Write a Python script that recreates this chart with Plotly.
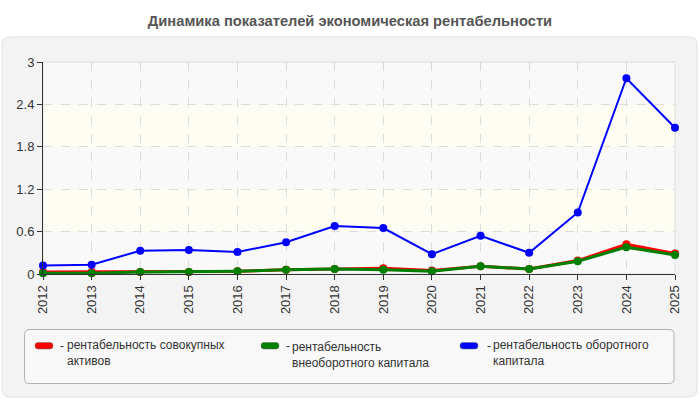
import plotly.graph_objects as go

years = [2012, 2013, 2014, 2015, 2016, 2017, 2018, 2019, 2020, 2021, 2022, 2023, 2024, 2025]
year_labels = [str(y) for y in years]
total_assets = [0.03, 0.03, 0.03, 0.03, 0.04, 0.06, 0.07, 0.08, 0.05, 0.11, 0.07, 0.19, 0.42, 0.29]
noncurrent = [0.01, 0.01, 0.03, 0.03, 0.04, 0.06, 0.07, 0.06, 0.04, 0.11, 0.07, 0.18, 0.38, 0.27]
working = [0.12, 0.13, 0.33, 0.34, 0.31, 0.45, 0.68, 0.65, 0.28, 0.54, 0.30, 0.87, 2.77, 2.07]
names = ["рентабельность совокупных активов",
         "рентабельность внеоборотного капитала",
         "рентабельность оборотного капитала"]
legend_texts = ["рентабельность совокупных<br>активов",
                "рентабельность<br>внеоборотного капитала",
                "рентабельность оборотного<br>капитала"]
colors = ["#ff0000", "#008000", "#0000ff"]
y_ticks = [0, 0.6, 1.2, 1.8, 2.4, 3]
y_tick_text = ["0", "0.6", "1.2", "1.8", "2.4", "3"]

W, H = 700, 400
L, R, T, B = 43, 675, 62, 274


def fx(px):
    return (px - L) / (R - L)


def fy(py):
    return (B - py) / (B - T)


def rrect(x0, y0, x1, y1, r):
    # rounded rectangle path in paper coords from pixel coords
    pts = [
        f"M {fx(x0 + r)},{fy(y0)}",
        f"L {fx(x1 - r)},{fy(y0)}",
        f"Q {fx(x1)},{fy(y0)} {fx(x1)},{fy(y0 + r)}",
        f"L {fx(x1)},{fy(y1 - r)}",
        f"Q {fx(x1)},{fy(y1)} {fx(x1 - r)},{fy(y1)}",
        f"L {fx(x0 + r)},{fy(y1)}",
        f"Q {fx(x0)},{fy(y1)} {fx(x0)},{fy(y1 - r)}",
        f"L {fx(x0)},{fy(y0 + r)}",
        f"Q {fx(x0)},{fy(y0)} {fx(x0 + r)},{fy(y0)}",
        "Z",
    ]
    return " ".join(pts)


fig = go.Figure()
series = [total_assets, noncurrent, working]
widths = [3, 3, 2]
for vals, nm, c, w in zip(series, names, colors, widths):
    fig.add_trace(go.Scatter(
        x=years, y=vals, name=nm, mode="lines+markers",
        line=dict(color=c, width=w),
        marker=dict(color=c, size=8),
        cliponaxis=False, showlegend=False,
    ))

shapes = []
# outer panel
shapes.append(dict(type="path", xref="paper", yref="paper", path=rrect(2, 37, 697, 397, 8),
                   fillcolor="#f3f3f3", line=dict(color="#e2e2e2", width=1), layer="below"))
# legend box
shapes.append(dict(type="path", xref="paper", yref="paper", path=rrect(24.5, 329.5, 674, 383.5, 5),
                   fillcolor="#f8f8f8", line=dict(color="#b0b0b0", width=1), layer="below"))
# plot area background bands
for i in range(len(y_ticks) - 1):
    fill = "#f9f9f9" if i % 2 == 0 else "#fdfdf4"
    shapes.append(dict(type="rect", xref="paper", yref="y", x0=0, x1=1,
                       y0=y_ticks[i], y1=y_ticks[i + 1], fillcolor=fill,
                       line=dict(width=0), layer="below"))
# plot border (top/right light)
shapes.append(dict(type="rect", xref="paper", yref="paper", x0=0, x1=1, y0=0, y1=1,
                   line=dict(color="#dddddd", width=1), fillcolor="rgba(0,0,0,0)", layer="below"))

# custom legend
leg_pos = [(35, 58, 65, 353), (261, 284, 290, 354.5), (460, 485, 491, 353)]
annotations = []
for (sx, dx, tx, cy), txt, c in zip(leg_pos, legend_texts, colors):
    shapes.append(dict(type="path", xref="paper", yref="paper",
                       path=rrect(sx, 342.5, sx + 18, 349, 3),
                       fillcolor=c, line=dict(color="#666666", width=0.5)))
    annotations.append(dict(text="-", xref="paper", yref="paper", x=fx(dx), y=fy(346),
                            xanchor="left", yanchor="middle", showarrow=False,
                            font=dict(family="Arial", size=12, color="#333333")))
    annotations.append(dict(text=txt, xref="paper", yref="paper", x=fx(tx), y=fy(cy),
                            xanchor="left", yanchor="middle", align="left", showarrow=False,
                            font=dict(family="Arial", size=12, color="#333333")))

fig.update_layout(
    width=W, height=H,
    margin=dict(l=L, r=W - R, t=T, b=H - B, pad=0),
    paper_bgcolor="white",
    plot_bgcolor="rgba(0,0,0,0)",
    title=dict(text="<b>Динамика показателей экономическая рентабельности</b>",
               x=0.5, xref="container", xanchor="center",
               y=1 - 21 / H, yref="container", yanchor="middle",
               font=dict(family="Arial", size=14.7, color="#555555")),
    shapes=shapes,
    annotations=annotations,
    showlegend=False,
    font=dict(family="Arial", size=13, color="#333333"),
)
fig.update_xaxes(
    range=[years[0], years[-1]], tickmode="array", tickvals=years, ticktext=year_labels,
    tickangle=-90, showgrid=True, gridcolor="#dcdcdc", griddash="dash", gridwidth=1,
    showline=True, linecolor="#333333", linewidth=1, ticks="outside", ticklen=5,
    tickcolor="#333333", zeroline=False, tickfont=dict(size=13, color="#333333"),
)
fig.update_yaxes(
    range=[0, 3], tickmode="array", tickvals=y_ticks, ticktext=y_tick_text,
    showgrid=True, gridcolor="#dcdcdc", griddash="dash", gridwidth=1,
    showline=True, linecolor="#333333", linewidth=1, ticks="outside", ticklen=5,
    tickcolor="#333333", zeroline=False, tickfont=dict(size=13, color="#333333"),
)
fig.write_html("out.html")
